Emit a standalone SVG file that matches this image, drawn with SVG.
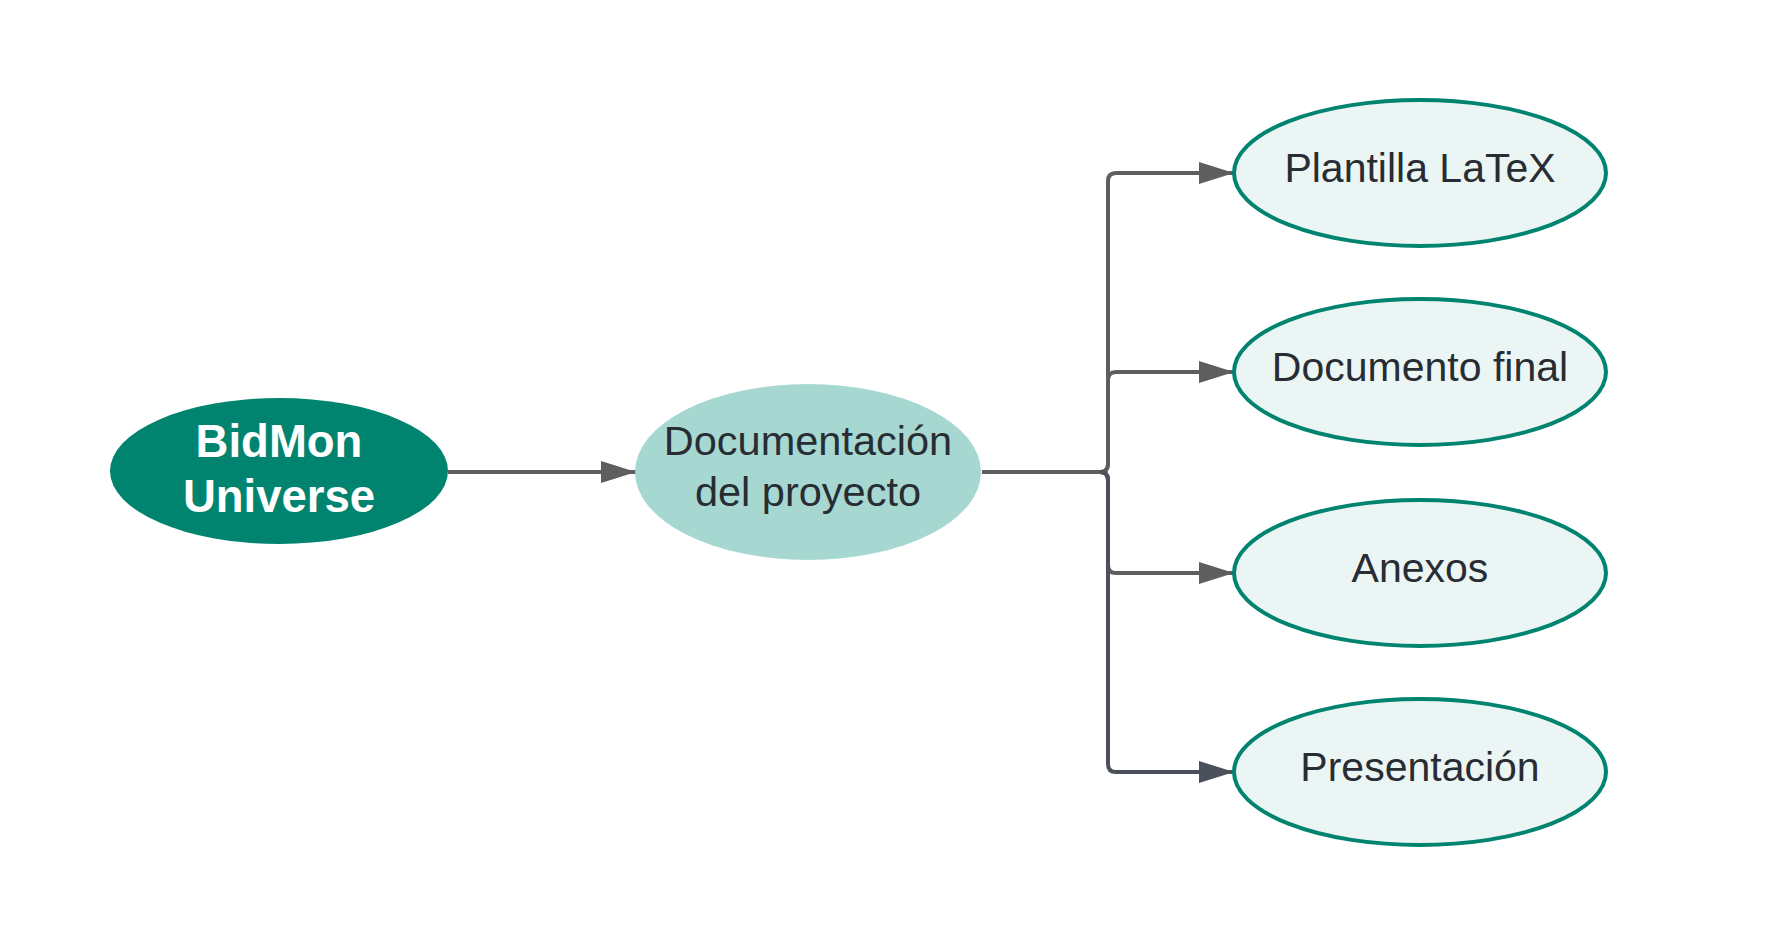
<svg xmlns="http://www.w3.org/2000/svg" width="1766" height="939" viewBox="0 0 1766 939">
<style>
.t{font-family:"Liberation Sans",Arial,sans-serif;fill:#282c33;text-anchor:middle}
.leaf{fill:#ebf5f3;stroke:#008470;stroke-width:4}
.c{fill:none;stroke:#5e5e5e;stroke-width:4}
.c2{fill:none;stroke:#4b505b;stroke-width:4}
</style>
<defs>
<marker id="a" markerUnits="userSpaceOnUse" markerWidth="36" markerHeight="24" refX="35" refY="11" orient="auto"><path d="M0,0 L35,11 L0,22 Z" fill="#5e5e5e"/></marker>
<marker id="a2" markerUnits="userSpaceOnUse" markerWidth="36" markerHeight="24" refX="35" refY="11" orient="auto"><path d="M0,0 L35,11 L0,22 Z" fill="#4b505b"/></marker>
</defs>
<rect width="1766" height="939" fill="#ffffff"/>
<g id="connectors">
<path class="c" d="M448,472 L636,472" marker-end="url(#a)"/>
<path class="c" d="M982,472 L1100,472 Q1108,472 1108,464 L1108,181 Q1108,173 1116,173 L1234,173" marker-end="url(#a)"/>
<path class="c" d="M982,472 L1100,472 Q1108,472 1108,464 L1108,380 Q1108,372 1116,372 L1234,372" marker-end="url(#a)"/>
<path class="c" d="M982,472 L1100,472 Q1108,472 1108,480 L1108,565 Q1108,573 1116,573 L1234,573" marker-end="url(#a)"/>
<path class="c2" d="M1100,472 Q1108,472 1108,480 L1108,764 Q1108,772 1116,772 L1234,772" marker-end="url(#a2)"/>
</g>
<g id="bidmon">
<ellipse cx="279" cy="471" rx="169" ry="73" fill="#00846f"/>
<text class="t" x="279" y="457" font-size="45.5" font-weight="bold" style="fill:#ffffff">BidMon</text>
<text class="t" x="279" y="512" font-size="45.5" font-weight="bold" style="fill:#ffffff">Universe</text>
</g>
<g id="documentacion">
<ellipse cx="808" cy="472" rx="173" ry="88" fill="#a6d8d1"/>
<text class="t" x="808" y="455" font-size="41.5">Documentación</text>
<text class="t" x="808" y="506" font-size="41.5">del proyecto</text>
</g>
<g id="plantilla">
<ellipse class="leaf" cx="1420" cy="173" rx="186" ry="73"/>
<text class="t" x="1420" y="182" font-size="41">Plantilla LaTeX</text>
</g>
<g id="documento">
<ellipse class="leaf" cx="1420" cy="372" rx="186" ry="73"/>
<text class="t" x="1420" y="381" font-size="41">Documento final</text>
</g>
<g id="anexos">
<ellipse class="leaf" cx="1420" cy="573" rx="186" ry="73"/>
<text class="t" x="1420" y="582" font-size="41">Anexos</text>
</g>
<g id="presentacion">
<ellipse class="leaf" cx="1420" cy="772" rx="186" ry="73"/>
<text class="t" x="1420" y="781" font-size="41">Presentación</text>
</g>
</svg>
